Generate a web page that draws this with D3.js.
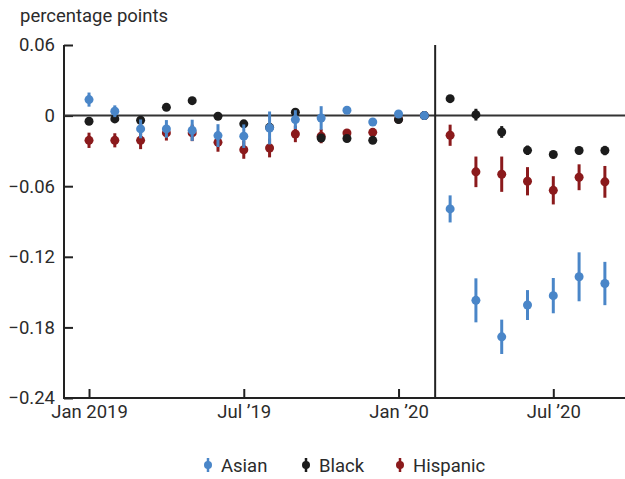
<!DOCTYPE html>
<html>
<head>
<meta charset="utf-8">
<script src="https://cdn.jsdelivr.net/npm/d3@7"></script>
<style>
html,body{margin:0;padding:0;background:#fff;}
svg{display:block;}
text{font-family:Roboto,"Noto Sans",sans-serif;fill:#2b2b2b;}
</style>
</head>
<body>
<svg id="chart" width="625" height="479"></svg>
<script>
// months indexed from Jan 2019 (0) to Sep 2020 (20)
const months = d3.range(0, 21);
const xTickIdx = [0, 6, 12, 18];
const xTickLabels = ["Jan 2019", "Jul \u201919", "Jan \u201920", "Jul \u201920"];
const yTicks = [0.06, 0, -0.06, -0.12, -0.18, -0.24];
const breakIdx = 13.42; // mid-Feb 2020

const asian = [0.0136, 0.0037, -0.0113, -0.0113, -0.0125, -0.017, -0.0175, -0.0105, -0.0034, -0.002, 0.0045, -0.0054, 0.0014, 0, -0.0793, -0.157, -0.188, -0.161, -0.153, -0.137, -0.1427];
const asianErr = [0.006, 0.005, 0.008, 0.0075, 0.009, 0.0097, 0.01, 0.014, 0.008, 0.01, 0.003, 0.003, 0.003, 0, 0.0115, 0.0187, 0.0146, 0.0127, 0.015, 0.0208, 0.0184];
const black = [-0.0048, -0.0028, -0.004, 0.007, 0.0127, -0.0006, -0.007, -0.01, 0.0028, -0.019, -0.0195, -0.021, -0.0034, 0, 0.0144, 0.0008, -0.0139, -0.0295, -0.0331, -0.0297, -0.0297];
const blackErr = [0.003, 0.003, 0.003, 0.003, 0.003, 0.003, 0.003, 0.003, 0.003, 0.003, 0.003, 0.003, 0.003, 0, 0.003, 0.005, 0.005, 0.004, 0.003, 0.003, 0.004];
const hispanic = [-0.021, -0.021, -0.021, -0.0147, -0.0147, -0.0227, -0.029, -0.0275, -0.0156, -0.0175, -0.0147, -0.0142, -0.003, 0, -0.0167, -0.0478, -0.0498, -0.0558, -0.0635, -0.0524, -0.0563];
const hispanicErr = [0.0065, 0.006, 0.0075, 0.0065, 0.007, 0.008, 0.0077, 0.008, 0.007, 0.006, 0.003, 0.003, 0.003, 0, 0.009, 0.013, 0.015, 0.012, 0.012, 0.011, 0.0135];

const seriesNames = ["Asian", "Black", "Hispanic"];
const colors = {Asian: "#4a86c8", Black: "#1c1c1c", Hispanic: "#8b1a1c"};
const values = {Asian: asian, Black: black, Hispanic: hispanic};
const errs = {Asian: asianErr, Black: blackErr, Hispanic: hispanicErr};
const drawOrder = ["Hispanic", "Black", "Asian"];

const svg = d3.select("#chart");
const mLeft = 64, mRight = 625, mTop = 45, mBottom = 398;
const fs = 18.5;

const x = d3.scaleLinear().domain([-0.97, 20.78]).range([mLeft, mRight]);
const y = d3.scaleLinear().domain([-0.24, 0.06]).range([mBottom, mTop]);

svg.append("text").attr("x", 20).attr("y", 22).attr("font-size", fs).text("percentage points");

// y axis
const yAxis = d3.axisLeft(y).tickValues(yTicks).tickSize(-9).tickPadding(9)
  .tickFormat(d => d === 0 ? "0" : d3.format(".2f")(d).replace("-", "\u2212"));
const gy = svg.append("g").attr("transform", `translate(${mLeft},0)`).call(yAxis);
gy.select(".domain").remove();
gy.selectAll(".tick line").attr("stroke", "#222").attr("stroke-width", 2);
gy.selectAll(".tick text").attr("font-size", fs).attr("fill", "#2b2b2b").attr("font-family", "Roboto");

// x axis
const xAxis = d3.axisBottom(x).tickValues(xTickIdx).tickSize(-9).tickPadding(7)
  .tickFormat((d, i) => xTickLabels[i]);
const gx = svg.append("g").attr("transform", `translate(0,${mBottom})`).call(xAxis);
gx.select(".domain").remove();
gx.selectAll(".tick line").attr("stroke", "#222").attr("stroke-width", 2);
gx.selectAll(".tick text").attr("font-size", fs).attr("fill", "#2b2b2b").attr("font-family", "Roboto");

// axis lines
svg.append("line").attr("x1", mLeft).attr("x2", mLeft).attr("y1", mTop).attr("y2", mBottom + 1)
  .attr("stroke", "#222").attr("stroke-width", 2);
svg.append("line").attr("x1", mLeft - 1).attr("x2", mRight).attr("y1", mBottom).attr("y2", mBottom)
  .attr("stroke", "#222").attr("stroke-width", 2);
// zero line
svg.append("line").attr("x1", mLeft).attr("x2", mRight).attr("y1", y(0)).attr("y2", y(0))
  .attr("stroke", "#333").attr("stroke-width", 2);
// break line
svg.append("line").attr("x1", x(breakIdx)).attr("x2", x(breakIdx)).attr("y1", mTop).attr("y2", mBottom)
  .attr("stroke", "#222").attr("stroke-width", 2);

// data
drawOrder.forEach(name => {
  const g = svg.append("g");
  const data = months.map((m, i) => ({m, v: values[name][i], e: errs[name][i]}));
  g.selectAll("line").data(data).enter().append("line")
    .attr("x1", d => x(d.m)).attr("x2", d => x(d.m))
    .attr("y1", d => y(d.v + d.e)).attr("y2", d => y(d.v - d.e))
    .attr("stroke", colors[name]).attr("stroke-width", 3);
  g.selectAll("circle").data(data).enter().append("circle")
    .attr("cx", d => x(d.m)).attr("cy", d => y(d.v)).attr("r", 4.5)
    .attr("fill", colors[name]);
});

// legend
const legendX = [208, 306, 400];
const lg = svg.append("g");
seriesNames.forEach((name, i) => {
  const cx = legendX[i], cy = 465;
  lg.append("line").attr("x1", cx).attr("x2", cx).attr("y1", cy - 7).attr("y2", cy + 7)
    .attr("stroke", colors[name]).attr("stroke-width", 2.5);
  lg.append("circle").attr("cx", cx).attr("cy", cy).attr("r", 4).attr("fill", colors[name]);
  lg.append("text").attr("x", cx + 13).attr("y", 472).attr("font-size", fs).text(name);
});
</script>
</body>
</html>
